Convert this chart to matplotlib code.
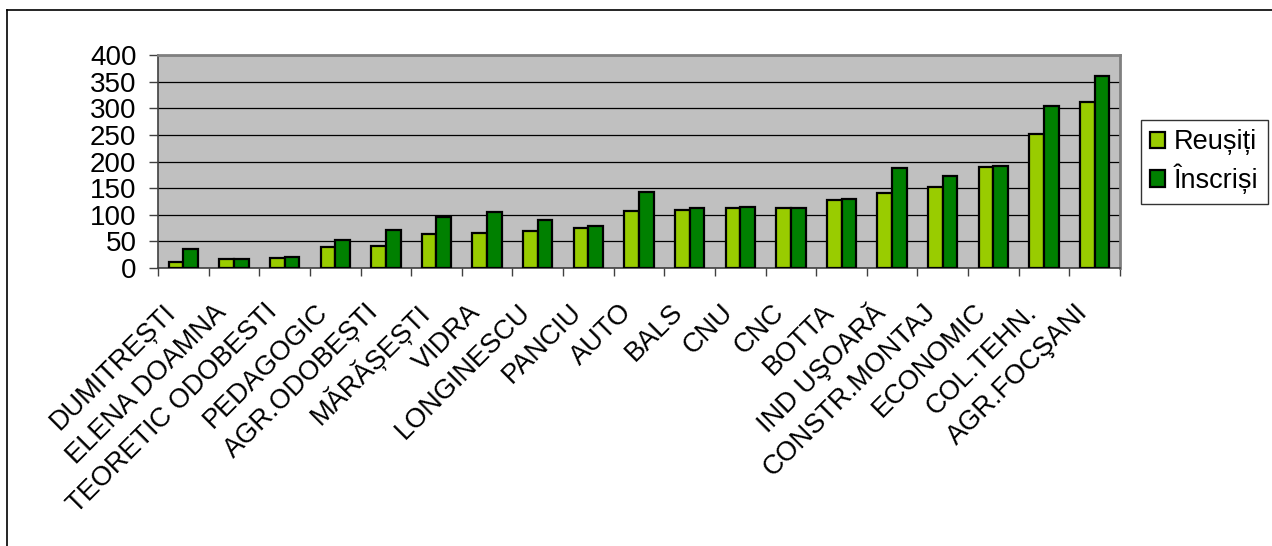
import numpy as np
import matplotlib
matplotlib.use("Agg")
import matplotlib.pyplot as plt
from matplotlib.lines import Line2D
from matplotlib.transforms import ScaledTranslation

plt.rcParams['font.family'] = ['Liberation Sans', 'DejaVu Sans']

licee = ["DUMITREȘTI", "ELENA DOAMNA", "TEORETIC ODOBESTI", "PEDAGOGIC",
         "AGR.ODOBEȘTI", "MĂRĂȘEȘTI", "VIDRA", "LONGINESCU", "PANCIU", "AUTO",
         "BALS", "CNU", "CNC", "BOTTA", "IND UŞOARĂ", "CONSTR.MONTAJ",
         "ECONOMIC", "COL.TEHN.", "AGR.FOCŞANI"]
reusiti = [12, 16, 19, 39, 42, 63, 65, 70, 75, 107,
           109, 113, 113, 127, 140, 153, 189, 252, 312]
inscrisi = [35, 16, 21, 52, 72, 96, 106, 90, 78, 143,
            113, 115, 113, 130, 188, 172, 191, 305, 361]

W, H = 1272, 546
fig = plt.figure(figsize=(W / 100, H / 100), dpi=100)
ax = fig.add_axes([158 / W, 1 - 268 / H, (1120 - 158) / W, (268 - 55) / H])

x = np.arange(len(licee))
w = 0.29
ax.bar(x - w / 2, reusiti, w, color='#99CC00', edgecolor='black', linewidth=1.6,
       label='Reușiți', zorder=3)
ax.bar(x + w / 2, inscrisi, w, color='#008000', edgecolor='black', linewidth=1.6,
       label='Înscriși', zorder=3)

ax.set_facecolor('#C0C0C0')
ax.set_xlim(-0.5, len(licee) - 0.5)
ax.set_ylim(0, 400)
ax.set_yticks(np.arange(0, 401, 50))
ax.yaxis.grid(True, color='black', linewidth=0.9, zorder=1)
ax.set_axisbelow(True)
ax.tick_params(axis='y', labelsize=20, length=6.5, width=1, pad=9, color='#404040')

ax.set_xticks(x)
ax.set_xticklabels(licee, rotation=45, ha='right', va='center',
                   rotation_mode='anchor', fontsize=19.5)
ax.tick_params(axis='x', which='major', length=0, pad=29)
ax.set_xticks(np.arange(-0.5, len(licee), 1), minor=True)
ax.tick_params(axis='x', which='minor', length=6, width=1, color='#404040')
shift = ScaledTranslation(-11 / 100, 0, fig.dpi_scale_trans)
for lbl in ax.get_xticklabels():
    lbl.set_transform(lbl.get_transform() + shift)

for s in ['top', 'right']:
    ax.spines[s].set_color('#808080')
    ax.spines[s].set_linewidth(2)
ax.spines['left'].set_color('#404040')
ax.spines['bottom'].set_color('#404040')
ax.spines['left'].set_linewidth(1.2)
ax.spines['bottom'].set_linewidth(1.2)

leg = fig.legend(loc='upper left', bbox_to_anchor=(1141 / W, 1 - 120 / H),
                 fontsize=19.5, frameon=True, fancybox=False, edgecolor='black',
                 handlelength=0.55, handleheight=0.55, handletextpad=0.3,
                 borderpad=0.35, labelspacing=0.3, borderaxespad=0)
leg.get_frame().set_linewidth(1)

# chenarul din jurul graficului
fig.add_artist(Line2D([7 / W, 1], [1 - 10 / H, 1 - 10 / H], color='black', lw=1.2))
fig.add_artist(Line2D([7 / W, 7 / W], [0, 1 - 10 / H], color='black', lw=1.2))

fig.savefig('out.png', dpi=100)
